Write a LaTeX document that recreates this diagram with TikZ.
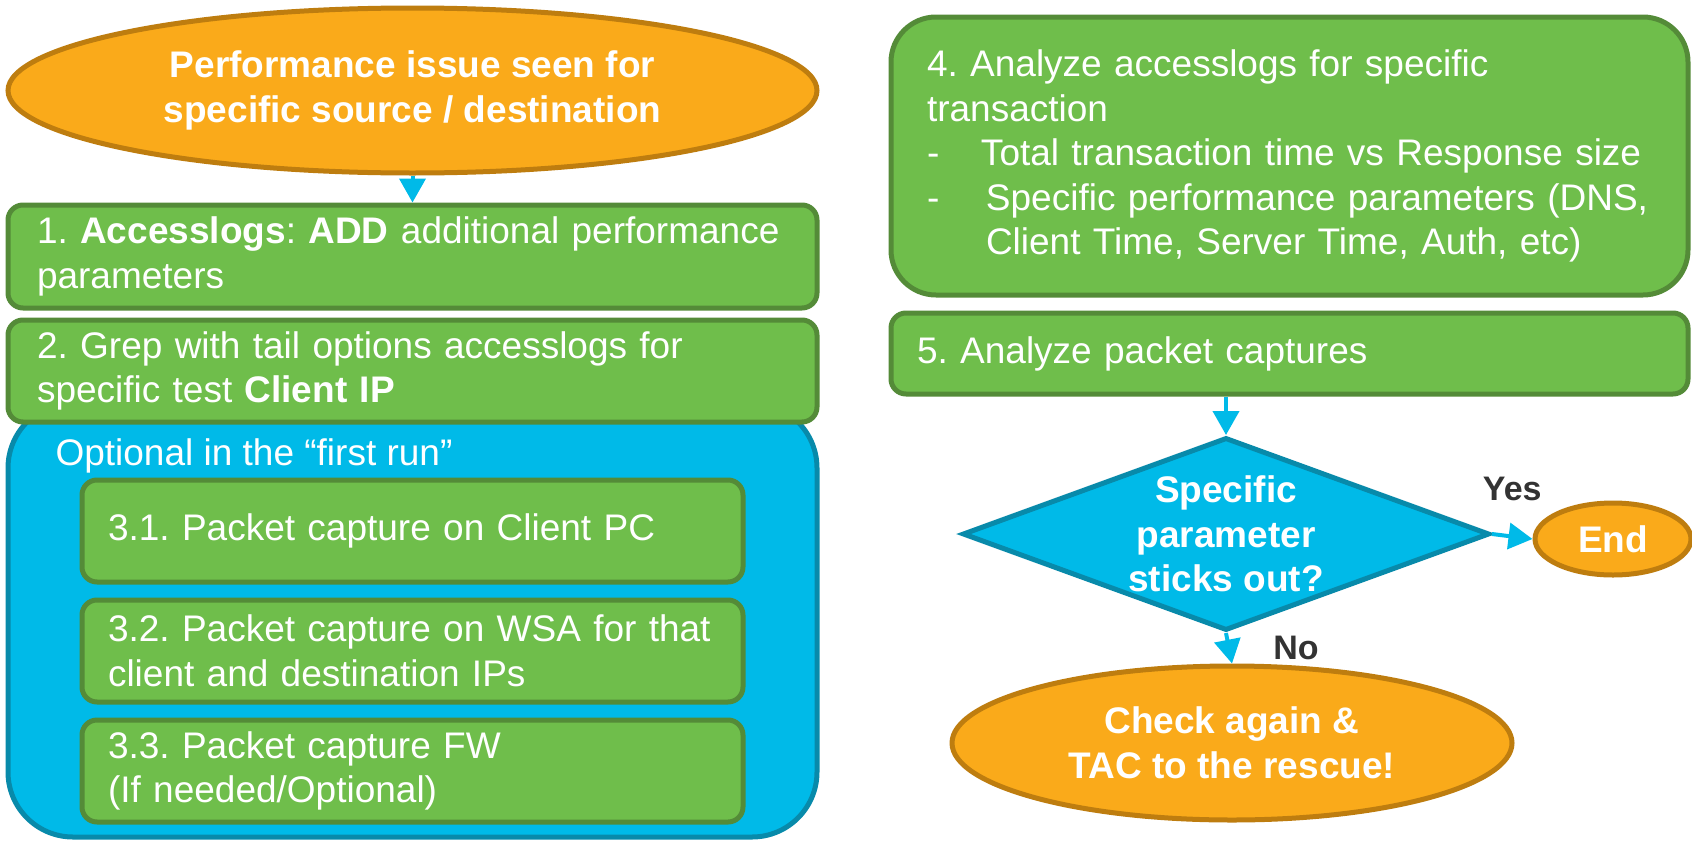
\documentclass[tikz,border=0pt]{standalone}
\usepackage{fontspec}
\setmainfont{Liberation Sans}
\usetikzlibrary{positioning, shapes.geometric, arrows.meta}
\frenchspacing
\hyphenpenalty=10000

\definecolor{step_green}{RGB}{111,190,75}
\definecolor{step_green_dark}{RGB}{84,139,56}
\definecolor{term_orange}{RGB}{250,170,26}
\definecolor{term_orange_dark}{RGB}{190,125,15}
\definecolor{flow_blue}{RGB}{0,186,232}
\definecolor{flow_blue_dark}{RGB}{8,138,170}
\definecolor{label_gray}{RGB}{51,51,51}

\begin{document}
\begin{tikzpicture}[x=1pt, y=-1pt,
    font=\fontsize{37}{44.5}\selectfont,
    stepbox/.style={draw=step_green_dark, fill=step_green, line width=5pt,
      rounded corners=15pt, text=white, align=left, inner xsep=28pt, inner ysep=0pt},
    terminal/.style={ellipse, draw=term_orange_dark, fill=term_orange, line width=5pt,
      text=white, font=\fontsize{37}{44.5}\selectfont\bfseries, align=center, inner sep=0pt},
    decision/.style={diamond, aspect=2.73, draw=flow_blue_dark, fill=flow_blue, line width=5pt,
      text=white, font=\fontsize{37}{44.5}\selectfont\bfseries, align=center, inner sep=0pt},
    flowarrow/.style={draw=flow_blue, line width=4pt, -{Triangle[length=24pt, width=26pt]}},
    answer/.style={text=label_gray, font=\fontsize{34}{40}\selectfont\bfseries}]

  \useasboundingbox (0,0) rectangle (1692,841);

  % 1. Columna izquierda: inicio y pasos 1-3
  \node[terminal, minimum width=809pt, minimum height=165pt] (issue) at (412.5,90.5)
    {Performance issue seen for\\specific source / destination};

  % grupo opcional (va detras del paso 2)
  \node[draw=flow_blue_dark, fill=flow_blue, line width=5pt, rounded corners=65pt,
    minimum width=809pt, minimum height=434pt] (optional) at (412.5,620) {};
  \node[anchor=base west, text=white] (optlabel) at (52,465) {Optional in the “first run”};

  \node[stepbox, inner xsep=29pt, text width=751pt, minimum height=103pt] (accesslogs) at (412.5,256.5)
    {1. \textbf{Accesslogs}: \textbf{ADD} additional performance\\parameters};
  \node[stepbox, inner xsep=29pt, text width=751pt, minimum height=102pt] (grep) at (412.5,371)
    {2. Grep with tail options accesslogs for\\specific test \textbf{Client IP}};

  \node[stepbox, inner xsep=26pt, text width=609pt, minimum height=102pt] (pcclient) at (412.5,531)
    {3.1. Packet capture on Client PC};
  \node[stepbox, inner xsep=26pt, text width=609pt, minimum height=102pt] (pcwsa) at (412.5,651)
    {3.2. Packet capture on WSA for that\\client and destination IPs};
  \node[stepbox, inner xsep=26pt, text width=609pt, minimum height=102pt] (pcfw) at (412.5,771)
    {3.3. Packet capture FW\\(If needed/Optional)};

  % 2. Columna derecha: pasos 4-5 y decision
  \node[stepbox, rounded corners=45pt, inner xsep=36pt, text width=725pt, minimum height=278pt] (analyze) at (1289.5,156)
    {4. Analyze accesslogs for specific\\transaction\\
     \makebox[54pt][l]{-}Total transaction time vs Response size\\
     \makebox[59pt][l]{-}Specific performance parameters (DNS,\\
     \hspace*{59pt}Client Time, Server Time, Auth, etc)};
  \node[stepbox, inner xsep=26pt, text width=745pt, minimum height=81pt] (captures) at (1289.5,353.5)
    {5. Analyze packet captures};

  \node[decision, minimum width=527pt, minimum height=193pt] (check) at (1226,534)
    {Specific\\parameter\\sticks out?};
  \node[terminal, minimum width=156pt, minimum height=72pt] (finish) at (1613,539) {End};
  \node[terminal, minimum width=560pt, minimum height=154pt] (rescue) at (1232,743)
    {Check again \&\\TAC to the rescue!};

  % 3. Flechas
  \draw[flowarrow] (issue) -- (accesslogs);
  \draw[flowarrow] (captures.south -| check.north) -- (check.north);
  \draw[flowarrow] (check.east) -- (finish.west)
    node[answer, midway, yshift=48pt] (yes) {Yes};
  \draw[flowarrow] (check.south) -- (rescue.north)
    node[answer, midway, xshift=67pt] (no) {No};

\end{tikzpicture}
\end{document}
